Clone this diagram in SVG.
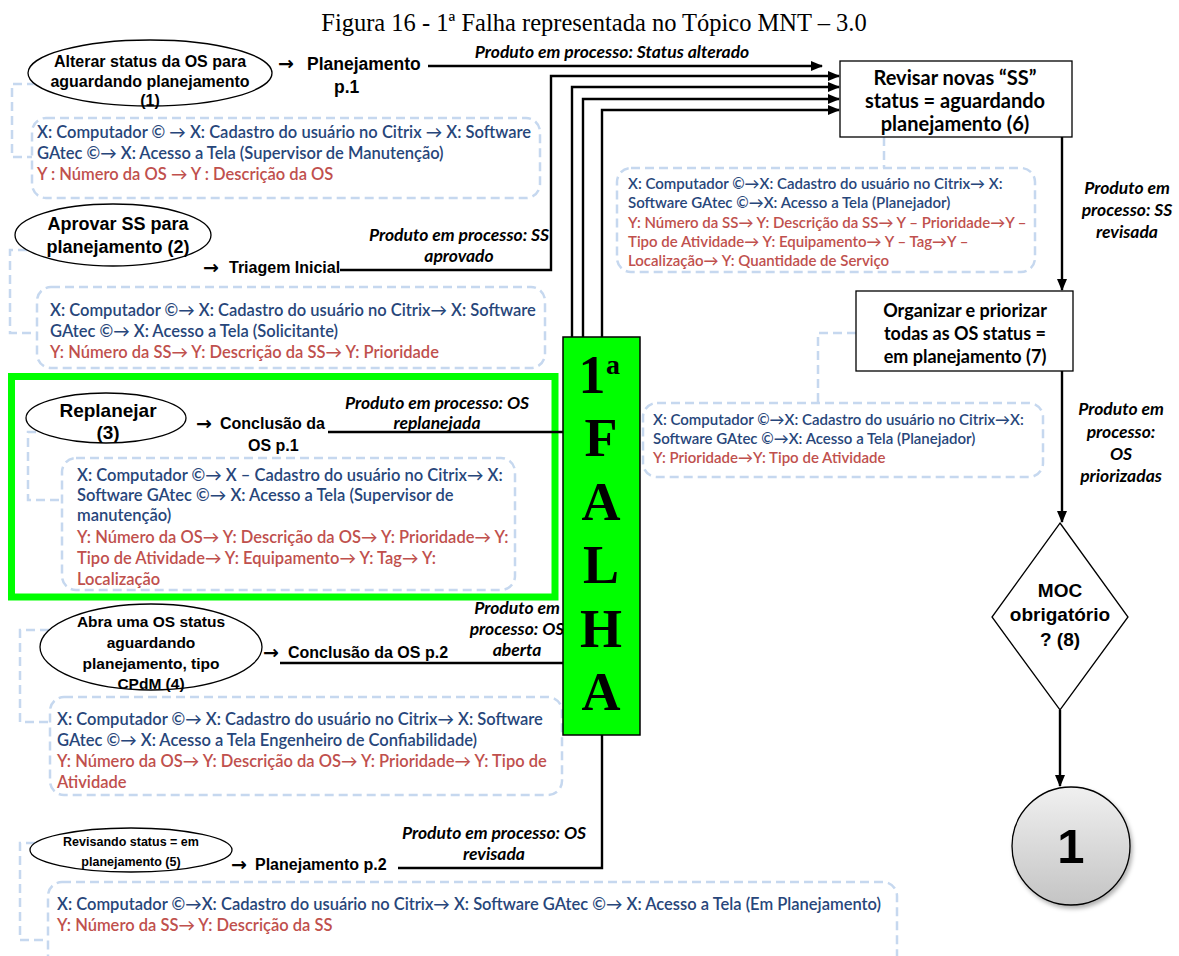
<svg xmlns="http://www.w3.org/2000/svg" width="1179" height="956" viewBox="0 0 1179 956">
<style>
  .t { font-family: "Liberation Sans", Arial, sans-serif; font-weight: bold; fill: #000; }
  .ar { font-family: "DejaVu Sans", sans-serif; font-weight: bold; font-size: 19px; }
  .c { font-family: Lato, "Liberation Sans", sans-serif; font-weight: 600; font-size: 16.5px; }
  .cs { font-family: Lato, "Liberation Sans", sans-serif; font-weight: 600; font-size: 15px; }
  .b { fill: #27467a; }
  .r { fill: #c0504d; }
  .lbl { font-family: Lato, "Liberation Sans", sans-serif; font-style: italic; font-weight: bold; font-size: 17.5px; fill: #000; }
  .box6 { font-family: Lato, "Liberation Sans", sans-serif; font-weight: bold; font-size: 20px; fill: #000; }
  .box7 { font-family: Lato, "Liberation Sans", sans-serif; font-weight: bold; font-size: 18px; fill: #000; }
  .dash { fill: none; stroke: #c6d8ef; stroke-width: 2.5; stroke-dasharray: 9 5; }
  .ln { fill: none; stroke: #000; stroke-width: 2.4; }
  .ell { fill: #fff; stroke: #000; stroke-width: 1.3; }
  .big { font-family: "Liberation Serif", "Times New Roman", serif; font-weight: bold; font-size: 54px; fill: #000; }
  .sup { font-family: "Liberation Serif", "Times New Roman", serif; font-weight: bold; font-size: 28px; fill: #000; }
</style>
<defs>
  <marker id="arrow" markerUnits="userSpaceOnUse" markerWidth="12" markerHeight="10" refX="11" refY="5" orient="auto">
    <path d="M0,0 L12,5 L0,10 Z" fill="#000"/>
  </marker>
  <linearGradient id="grey" x1="0" y1="0" x2="0" y2="1">
    <stop offset="0" stop-color="#f0f0f0"/>
    <stop offset="1" stop-color="#c4c4c4"/>
  </linearGradient>
  <filter id="shadow" x="-20%" y="-20%" width="140%" height="140%">
    <feDropShadow dx="2" dy="3" stdDeviation="2" flood-color="#000" flood-opacity="0.3"/>
  </filter>
</defs>

<rect width="1179" height="956" fill="#fff"/>

<text x="594" y="31" text-anchor="middle" font-family="'Liberation Serif', 'Times New Roman', serif" font-size="24.5">Figura 16 - 1ª Falha representada no Tópico MNT – 3.0</text>

<!-- highlight frame around step 3 -->
<rect x="11.5" y="376.5" width="543.5" height="220.5" fill="#fff" stroke="#00ff00" stroke-width="7"/>

<!-- dashed links from steps to their resource lists -->
<g id="resource-links">
  <path class="dash" d="M36,84 H12 V157 H32"/>
  <path class="dash" d="M27,250 H10 V333 H37"/>
  <path class="dash" d="M36,432 H28 V500 H62"/>
  <path class="dash" d="M49,630 H20 V722 H50"/>
  <path class="dash" d="M35,843 H20 V940 H48"/>
  <path class="dash" d="M884,137 V168"/>
  <path class="dash" d="M856,333 H818 V403"/>
</g>

<!-- flow connectors -->
<g id="connectors">
  <path class="ln" d="M428,66 H822" marker-end="url(#arrow)"/>
  <path class="ln" d="M340,270 H551 V76 H839" marker-end="url(#arrow)"/>
  <path class="ln" d="M328,432 H572 V87 H839" marker-end="url(#arrow)"/>
  <path class="ln" d="M280,663 H583 V99 H839" marker-end="url(#arrow)"/>
  <path class="ln" d="M398,868 H602 V110 H839" marker-end="url(#arrow)"/>
  <path class="ln" d="M1062,137 V290" marker-end="url(#arrow)"/>
  <path class="ln" d="M1062,371 V522" marker-end="url(#arrow)"/>
  <path class="ln" d="M1060,710 V786" marker-end="url(#arrow)"/>
  <text class="lbl" x="612" y="58" text-anchor="middle">Produto em processo: Status alterado</text>
  <text class="lbl" x="459" y="241" text-anchor="middle">Produto em processo: SS</text>
  <text class="lbl" x="459" y="262" text-anchor="middle">aprovado</text>
  <text class="lbl" x="437" y="409" text-anchor="middle">Produto em processo: OS</text>
  <text class="lbl" x="437" y="429" text-anchor="middle">replanejada</text>
  <text class="lbl" x="517" y="614" text-anchor="middle">Produto em</text>
  <text class="lbl" x="517" y="635" text-anchor="middle">processo: OS</text>
  <text class="lbl" x="517" y="656" text-anchor="middle">aberta</text>
  <text class="lbl" x="494" y="839" text-anchor="middle">Produto em processo: OS</text>
  <text class="lbl" x="494" y="860" text-anchor="middle">revisada</text>
  <text class="lbl" x="1127" y="194" text-anchor="middle">Produto em</text>
  <text class="lbl" x="1127" y="216" text-anchor="middle">processo: SS</text>
  <text class="lbl" x="1127" y="238" text-anchor="middle">revisada</text>
  <text class="lbl" x="1121" y="415" text-anchor="middle">Produto em</text>
  <text class="lbl" x="1121" y="438" text-anchor="middle">processo:</text>
  <text class="lbl" x="1121" y="460" text-anchor="middle">OS</text>
  <text class="lbl" x="1121" y="482" text-anchor="middle">priorizadas</text>
</g>

<!-- step 1 -->
<g id="step1">
  <ellipse class="ell" cx="150" cy="73" rx="122" ry="33"/>
  <text class="t" font-size="16" text-anchor="middle"><tspan x="150" y="67">Alterar status da OS para</tspan><tspan x="150" y="87">aguardando planejamento</tspan><tspan x="150" y="106">(1)</tspan></text>
  <text class="t ar" x="278" y="70">→</text>
  <text class="t" font-size="17.5" x="307" y="70">Planejamento</text>
  <text class="t" font-size="17.5" x="334" y="93">p.1</text>
</g>
<g id="res1">
  <rect class="dash" x="32" y="118" width="508" height="80" rx="14"/>
  <text class="c b" x="37" y="138">X: Computador © → X: Cadastro do usuário no Citrix → X: Software</text>
  <text class="c b" x="37" y="159">GAtec ©→ X: Acesso a Tela (Supervisor de Manutenção)</text>
  <text class="c r" x="37" y="180">Y : Número da OS → Y : Descrição da OS</text>
</g>

<!-- step 2 -->
<g id="step2">
  <ellipse class="ell" cx="113" cy="235" rx="98" ry="31"/>
  <text class="t" font-size="18" text-anchor="middle"><tspan x="118" y="230">Aprovar SS para</tspan><tspan x="118" y="253">planejamento (2)</tspan></text>
  <text class="t ar" x="203" y="274">→</text>
  <text class="t" font-size="16" x="229" y="273">Triagem Inicial</text>
</g>
<g id="res2">
  <rect class="dash" x="37" y="287" width="508" height="81" rx="14"/>
  <text class="c b" x="50" y="316">X: Computador ©→ X: Cadastro do usuário no Citrix→ X: Software</text>
  <text class="c b" x="50" y="337">GAtec ©→ X: Acesso a Tela (Solicitante)</text>
  <text class="c r" x="50" y="358">Y: Número da SS→ Y: Descrição da SS→ Y: Prioridade</text>
</g>

<!-- step 3 -->
<g id="step3">
  <ellipse class="ell" cx="106" cy="418" rx="80" ry="25"/>
  <text class="t" font-size="19" text-anchor="middle"><tspan x="108" y="417">Replanejar</tspan><tspan x="108" y="439">(3)</tspan></text>
  <text class="t ar" x="196" y="430">→</text>
  <text class="t" font-size="16" x="220" y="429">Conclusão da</text>
  <text class="t" font-size="16" x="248" y="451">OS p.1</text>
</g>
<g id="res3">
  <rect class="dash" x="62" y="458" width="453" height="132" rx="14"/>
  <text class="c b" x="77" y="481">X: Computador ©→ X – Cadastro do usuário no Citrix→ X:</text>
  <text class="c b" x="77" y="501">Software GAtec ©→ X: Acesso a Tela (Supervisor de</text>
  <text class="c b" x="77" y="521">manutenção)</text>
  <text class="c r" x="77" y="543">Y: Número da OS→ Y: Descrição da OS→ Y: Prioridade→ Y:</text>
  <text class="c r" x="77" y="564">Tipo de Atividade→ Y: Equipamento→ Y: Tag→ Y:</text>
  <text class="c r" x="77" y="585">Localização</text>
</g>

<!-- step 4 -->
<g id="step4">
  <ellipse class="ell" cx="151" cy="647" rx="111" ry="43"/>
  <text class="t" font-size="15.5" text-anchor="middle"><tspan x="151" y="627">Abra uma OS status</tspan><tspan x="151" y="648">aguardando</tspan><tspan x="151" y="669">planejamento, tipo</tspan><tspan x="151" y="689">CPdM (4)</tspan></text>
  <text class="t ar" x="263" y="659">→</text>
  <text class="t" font-size="16" x="288" y="658">Conclusão da OS p.2</text>
</g>
<g id="res4">
  <rect class="dash" x="50" y="697" width="512" height="98" rx="14"/>
  <text class="c b" x="57" y="725">X: Computador ©→ X: Cadastro do usuário no Citrix→ X: Software</text>
  <text class="c b" x="57" y="746">GAtec ©→ X: Acesso a Tela Engenheiro de Confiabilidade)</text>
  <text class="c r" x="57" y="767">Y: Número da OS→ Y: Descrição da OS→ Y: Prioridade→ Y: Tipo de</text>
  <text class="c r" x="57" y="788">Atividade</text>
</g>

<!-- step 5 -->
<g id="step5">
  <ellipse class="ell" cx="131" cy="850" rx="101" ry="22"/>
  <text class="t" font-size="12.5" text-anchor="middle"><tspan x="131" y="846">Revisando status = em</tspan><tspan x="131" y="866">planejamento (5)</tspan></text>
  <text class="t ar" x="231" y="871">→</text>
  <text class="t" font-size="16" x="255" y="870">Planejamento p.2</text>
</g>
<g id="res5">
  <rect class="dash" x="48" y="882" width="849" height="90" rx="14"/>
  <text class="c b" x="57" y="910">X: Computador ©→X: Cadastro do usuário no Citrix→ X: Software GAtec ©→ X: Acesso a Tela (Em Planejamento)</text>
  <text class="c r" x="57" y="931">Y: Número da SS→ Y: Descrição da SS</text>
</g>

<!-- step 6 -->
<g id="step6">
  <rect x="840" y="61" width="232" height="76" fill="#fff" stroke="#000" stroke-width="1.3"/>
  <text class="box6" text-anchor="middle"><tspan x="955" y="85">Revisar novas “SS”</tspan><tspan x="955" y="108">status = aguardando</tspan><tspan x="955" y="131">planejamento (6)</tspan></text>
</g>
<g id="res6">
  <rect class="dash" x="617" y="168" width="418" height="104" rx="14"/>
  <text class="cs b" x="628" y="189">X: Computador ©→X: Cadastro do usuário no Citrix→ X:</text>
  <text class="cs b" x="628" y="208">Software GAtec ©→X: Acesso a Tela (Planejador)</text>
  <text class="cs r" x="628" y="228">Y: Número da SS→ Y: Descrição da SS→ Y – Prioridade→Y –</text>
  <text class="cs r" x="628" y="247">Tipo de Atividade→ Y: Equipamento→ Y – Tag→Y –</text>
  <text class="cs r" x="628" y="266">Localização→ Y: Quantidade de Serviço</text>
</g>

<!-- step 7 -->
<g id="step7">
  <rect x="856" y="291" width="217" height="80" fill="#fff" stroke="#000" stroke-width="1.3"/>
  <text class="box7" text-anchor="middle"><tspan x="965" y="317">Organizar e priorizar</tspan><tspan x="965" y="340">todas as OS status =</tspan><tspan x="965" y="363">em planejamento (7)</tspan></text>
</g>
<g id="res7">
  <rect class="dash" x="643" y="403" width="400" height="74" rx="14"/>
  <text class="cs b" x="653" y="425">X: Computador ©→X: Cadastro do usuário no Citrix→X:</text>
  <text class="cs b" x="653" y="444">Software GAtec ©→X: Acesso a Tela (Planejador)</text>
  <text class="cs r" x="653" y="463">Y: Prioridade→Y: Tipo de Atividade</text>
</g>

<!-- failure marker -->
<g id="falha">
  <rect x="563" y="337" width="77" height="398" fill="#00ff00" stroke="#000" stroke-width="1.5"/>
  <text class="big" x="592" y="393" text-anchor="middle">1</text>
  <text class="sup" x="606" y="374">a</text>
  <text class="big" x="601" y="456" text-anchor="middle">F</text>
  <text class="big" x="601" y="520" text-anchor="middle">A</text>
  <text class="big" x="601" y="583" text-anchor="middle">L</text>
  <text class="big" x="601" y="647" text-anchor="middle">H</text>
  <text class="big" x="601" y="710" text-anchor="middle">A</text>
</g>

<!-- decision 8 -->
<g id="step8">
  <path d="M1060,523 L1128,617 L1060,710 L992,617 Z" fill="#fff" stroke="#000" stroke-width="1.3"/>
  <text class="t" font-size="19" text-anchor="middle"><tspan x="1060" y="597">MOC</tspan><tspan x="1060" y="621">obrigatório</tspan><tspan x="1060" y="646">? (8)</tspan></text>
</g>

<!-- off-page connector -->
<g id="connector1">
  <circle cx="1071" cy="846" r="59" fill="url(#grey)" stroke="#000" stroke-width="1.3" filter="url(#shadow)"/>
  <text class="t" font-size="49" x="1071" y="863" text-anchor="middle">1</text>
</g>
</svg>
